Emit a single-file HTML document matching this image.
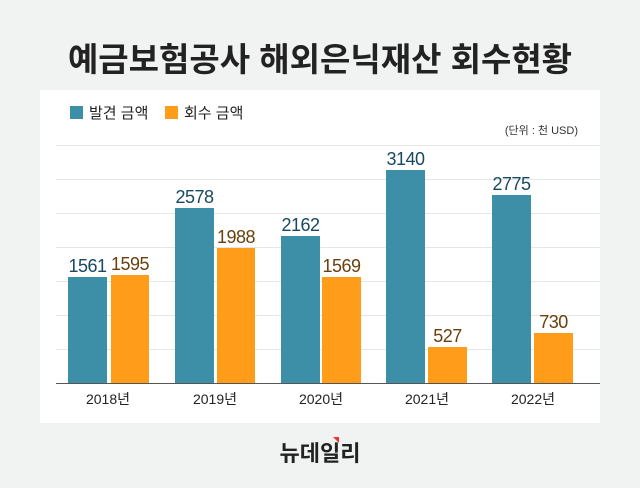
<!DOCTYPE html>
<html><head><meta charset="utf-8"><style>
body{margin:0;width:640px;height:483px;background:#f1f3f2;font-family:"Liberation Sans","Noto Sans CJK KR",sans-serif;overflow:hidden}
</style></head><body>
<svg width="640" height="483" xmlns="http://www.w3.org/2000/svg" font-family="Liberation Sans, Noto Sans CJK KR, sans-serif">
<rect width="640" height="483" fill="#f1f3f2"/>
<text x="320" y="71" text-anchor="middle" font-size="33" font-weight="bold" fill="#222">예금보험공사 해외은닉재산 회수현황</text>
<rect x="40" y="90" width="560" height="333" fill="#fff"/>
<rect x="70" y="106" width="13" height="13" fill="#3d8fa8"/>
<text x="89" y="118" font-size="15" fill="#222">발견 금액</text>
<rect x="165" y="106" width="13" height="13" fill="#ff9c1a"/>
<text x="184" y="118" font-size="15" fill="#222">회수 금액</text>
<text x="578" y="134" text-anchor="end" font-size="11" fill="#333">(단위 : 천 USD)</text>
<g stroke="#e6e6e6" stroke-width="1">
<line x1="56" x2="600" y1="145.5" y2="145.5"/><line x1="56" x2="600" y1="179.5" y2="179.5"/>
<line x1="56" x2="600" y1="213.5" y2="213.5"/><line x1="56" x2="600" y1="247.5" y2="247.5"/>
<line x1="56" x2="600" y1="281.5" y2="281.5"/><line x1="56" x2="600" y1="315.5" y2="315.5"/>
<line x1="56" x2="600" y1="349.5" y2="349.5"/>
</g>
<g fill="#3d8fa8">
<rect x="68" y="277" width="39" height="106"/>
<rect x="175" y="208" width="39" height="175"/>
<rect x="281" y="236" width="39" height="147"/>
<rect x="386" y="170" width="39" height="213"/>
<rect x="492" y="195" width="39" height="188"/>
</g>
<g fill="#ff9c1a">
<rect x="111" y="275" width="38" height="108"/>
<rect x="217" y="248" width="38" height="135"/>
<rect x="322" y="277" width="39" height="106"/>
<rect x="428" y="347" width="39" height="36"/>
<rect x="534" y="333" width="39" height="50"/>
</g>
<line x1="56" x2="600" y1="383.5" y2="383.5" stroke="#555"/>
<g font-size="18" text-anchor="middle" fill="#174a60" letter-spacing="-0.5">
<text x="87.5" y="272">1561</text><text x="194.5" y="203">2578</text><text x="300.5" y="231">2162</text>
<text x="405.5" y="165">3140</text><text x="511.5" y="190">2775</text>
</g>
<g font-size="18" text-anchor="middle" fill="#6a400c" letter-spacing="-0.5">
<text x="130" y="270">1595</text><text x="236" y="243">1988</text><text x="341.5" y="272">1569</text>
<text x="447.5" y="342">527</text><text x="553.5" y="328">730</text>
</g>
<g font-size="14" text-anchor="middle" fill="#222">
<text x="108" y="404">2018년</text><text x="215" y="404">2019년</text><text x="321" y="404">2020년</text>
<text x="427" y="404">2021년</text><text x="533" y="404">2022년</text>
</g>
<text x="320" y="461" text-anchor="middle" font-size="22" font-weight="bold" fill="#222">뉴데일리</text>
<polygon points="333,437 339,437 339,443" fill="#e33"/>
</svg>
</body></html>
